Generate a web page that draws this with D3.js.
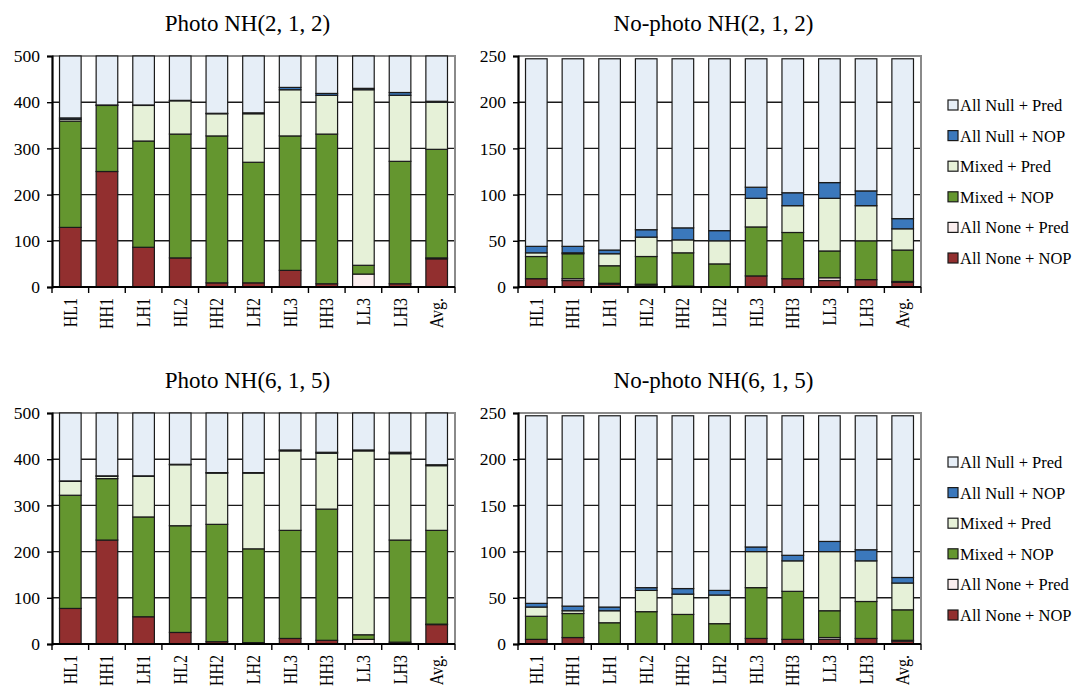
<!DOCTYPE html>
<html>
<head>
<meta charset="utf-8">
<script src="https://cdn.jsdelivr.net/npm/d3@7"></script>
<style>
  html, body { margin: 0; padding: 0; background: #fff; }
  svg text { font-family: "Liberation Serif", "DejaVu Serif", "Times New Roman", serif; }
</style>
</head>
<body>
<svg id="chart" width="1078" height="688"></svg>
<script>
// Categories on the x axis of every panel
const categories = ["HL1", "HH1", "LH1", "HL2", "HH2", "LH2", "HL3", "HH3", "LL3", "LH3", "Avg."];

// Stack order, bottom to top
const seriesNames = ["All None + NOP", "All None + Pred", "Mixed + NOP", "Mixed + Pred", "All Null + NOP", "All Null + Pred"];
const seriesColors = ["#922f2f", "#fbeeee", "#64962f", "#e6f1d8", "#3b78bc", "#e6eef7"];

// Counts per series (rows follow seriesNames), one value per category
const photo212 = [
  [129, 250, 86, 63, 9, 9, 36, 7, 0, 7, 61],
  [0, 0, 0, 0, 0, 0, 0, 0, 28, 0, 2],
  [230, 143, 230, 268, 318, 261, 291, 324, 19, 265, 235],
  [4, 0, 77, 72, 48, 105, 100, 84, 380, 143, 102],
  [3, 1, 1, 1, 1, 2, 5, 4, 3, 6, 2],
  [134, 106, 106, 96, 124, 123, 68, 81, 70, 79, 98]
];
const noPhoto212 = [
  [9, 7, 3, 2, 1, 0, 12, 9, 7, 8, 5],
  [0, 2, 1, 1, 0, 0, 0, 0, 3, 0, 1],
  [24, 27, 19, 30, 36, 25, 53, 50, 29, 42, 34],
  [4, 1, 13, 21, 14, 25, 31, 29, 57, 38, 23],
  [7, 7, 4, 8, 13, 11, 12, 14, 17, 16, 11],
  [203, 203, 207, 185, 183, 186, 139, 145, 134, 143, 173]
];
const photo615 = [
  [77, 225, 59, 25, 5, 3, 12, 8, 0, 4, 42],
  [0, 0, 0, 0, 0, 0, 0, 0, 10, 0, 1],
  [245, 133, 216, 231, 254, 203, 234, 284, 10, 221, 203],
  [30, 5, 88, 132, 111, 164, 172, 121, 398, 187, 140],
  [1, 1, 1, 1, 1, 1, 2, 2, 2, 3, 2],
  [147, 136, 136, 111, 129, 129, 80, 85, 80, 85, 112]
];
const noPhoto615 = [
  [5, 7, 0, 0, 0, 0, 6, 5, 5, 6, 3],
  [0, 0, 0, 0, 0, 0, 0, 0, 2, 0, 1],
  [25, 26, 23, 35, 32, 22, 55, 52, 29, 40, 33],
  [10, 3, 13, 23, 22, 31, 39, 33, 64, 44, 29],
  [4, 5, 4, 3, 6, 5, 5, 6, 11, 12, 6],
  [203, 206, 207, 186, 187, 189, 142, 151, 136, 145, 175]
];

// Tick values for the two kinds of y axis
const photoTicks = [0, 100, 200, 300, 400, 500];
const noPhotoTicks = [0, 50, 100, 150, 200, 250];

const FONT = "'Liberation Serif', 'DejaVu Serif', 'Times New Roman', serif";
const svg = d3.select("#chart");

const panels = [
  { title: "Photo NH(2, 1, 2)", data: photo212, ticks: photoTicks, x0: 52, y0: 56, legend: false },
  { title: "No-photo NH(2, 1, 2)", data: noPhoto212, ticks: noPhotoTicks, x0: 518, y0: 56, legend: true },
  { title: "Photo NH(6, 1, 5)", data: photo615, ticks: photoTicks, x0: 52, y0: 413, legend: false },
  { title: "No-photo NH(6, 1, 5)", data: noPhoto615, ticks: noPhotoTicks, x0: 518, y0: 413, legend: true }
];

const plotW = 403, plotH = 231;

panels.forEach(p => {
  const g = svg.append("g").attr("transform", `translate(${p.x0},${p.y0})`);

  const x = d3.scaleBand().domain(categories).range([0, plotW]).paddingInner(0.41).paddingOuter(0.205);
  const yMax = p.ticks[p.ticks.length - 1];
  const y = d3.scaleLinear().domain([0, yMax]).range([plotH, 0]);

  // rows per category for d3.stack
  const rows = categories.map((c, i) => {
    const r = { cat: c };
    seriesNames.forEach((s, k) => { r[s] = p.data[k][i]; });
    return r;
  });
  const stacked = d3.stack().keys(seriesNames)(rows);

  // title
  svg.append("text")
    .attr("x", p.x0 + plotW / 2 - 6)
    .attr("y", p.y0 - 25)
    .attr("text-anchor", "middle")
    .attr("font-family", FONT)
    .attr("font-size", 23)
    .attr("fill", "#000")
    .text(p.title);

  // horizontal gridlines
  g.append("g").selectAll("line")
    .data(p.ticks.filter(t => t > 0 && t < yMax))
    .join("line")
    .attr("x1", 0).attr("x2", plotW)
    .attr("y1", d => y(d)).attr("y2", d => y(d))
    .attr("stroke", "#1a1a1a").attr("stroke-width", 1.4);

  // frame: top and right
  g.append("path")
    .attr("d", `M0,${y(yMax)}H${plotW}V${plotH}`)
    .attr("fill", "none").attr("stroke", "#8a8a8a").attr("stroke-width", 2);

  // bars
  g.append("g").selectAll("g")
    .data(stacked)
    .join("g")
    .attr("fill", (d, i) => seriesColors[i])
    .selectAll("rect")
    .data(d => d.filter(v => v[1] - v[0] > 0))
    .join("rect")
    .attr("x", d => x(d.data.cat))
    .attr("width", x.bandwidth())
    .attr("y", d => y(d[1]))
    .attr("height", d => y(d[0]) - y(d[1]))
    .attr("stroke", "#1a1a1a").attr("stroke-width", 1.2);

  // y axis
  const yAxis = g.append("g").call(
    d3.axisLeft(y).tickValues(p.ticks).tickSize(5).tickPadding(7).tickFormat(d3.format("d"))
  );
  yAxis.attr("font-family", FONT);
  yAxis.select(".domain").attr("stroke", "#000").attr("stroke-width", 2.2);
  yAxis.selectAll(".tick line").attr("stroke", "#000").attr("stroke-width", 1.4);
  yAxis.selectAll(".tick text")
    .attr("font-size", 17.5).attr("fill", "#000")
    .attr("font-family", FONT);

  // x axis: ticks at category boundaries
  const xa = g.append("g").attr("transform", `translate(0,${plotH})`);
  xa.append("line").attr("x1", 0).attr("x2", plotW).attr("y1", 0).attr("y2", 0)
    .attr("stroke", "#000").attr("stroke-width", 2.2);
  const step = x.step();
  const firstEdge = x(categories[0]) - (step - x.bandwidth()) / 2;
  xa.selectAll("line.bt")
    .data(d3.range(categories.length + 1))
    .join("line").attr("class", "bt")
    .attr("x1", i => firstEdge + i * step)
    .attr("x2", i => firstEdge + i * step)
    .attr("y1", 0).attr("y2", 6)
    .attr("stroke", "#000").attr("stroke-width", 1.4);
  xa.selectAll("text")
    .data(categories)
    .join("text")
    .attr("transform", d => `translate(${x(d) + x.bandwidth() / 2 + 6.5},${11}) rotate(-90) scale(1,1.2)`)
    .attr("text-anchor", "end")
    .attr("font-family", FONT)
    .attr("font-size", 16)
    .attr("fill", "#000")
    .text(d => d);

  // legend, top series first
  if (p.legend) {
    const lg = svg.append("g").attr("transform", `translate(948,${p.y0 + 49})`);
    const order = seriesNames.map((s, i) => i).reverse();
    order.forEach((k, j) => {
      const row = lg.append("g").attr("transform", `translate(0,${j * 30.6})`);
      row.append("rect").attr("x", 0).attr("y", -5).attr("width", 10).attr("height", 10)
        .attr("fill", seriesColors[k]).attr("stroke", "#1a1a1a").attr("stroke-width", 1.2);
      row.append("text").attr("x", 12).attr("y", 6)
        .attr("font-family", FONT)
        .attr("font-size", 16.5).attr("fill", "#000")
        .text(seriesNames[k]);
    });
  }
});
</script>
</body>
</html>
